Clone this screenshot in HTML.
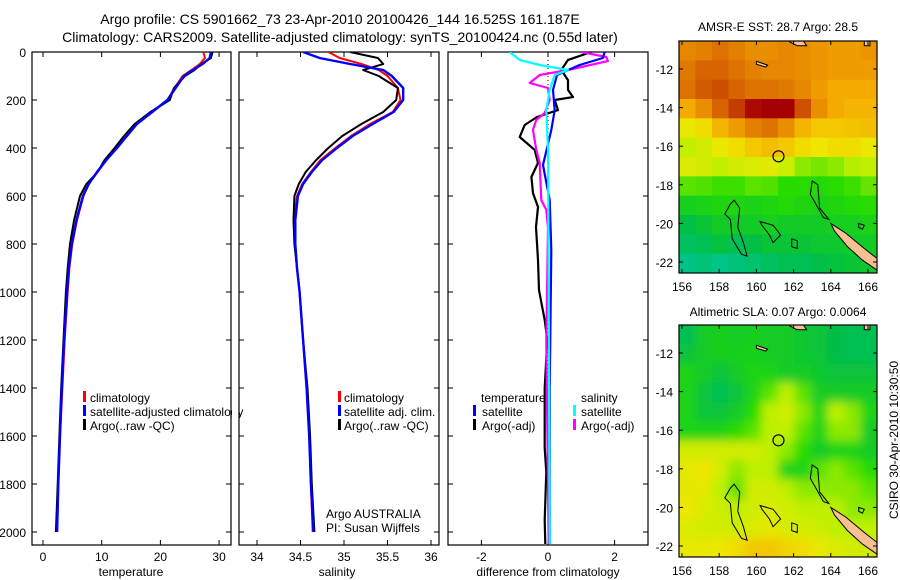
<!DOCTYPE html>
<html><head><meta charset="utf-8">
<style>
html,body{margin:0;padding:0;background:#fff;}
svg{display:block;font-family:"Liberation Sans",sans-serif;}
text{fill:#000;}
</style></head>
<body>
<svg id="fig" width="900" height="580" viewBox="0 0 900 580">
<defs>
  <clipPath id="cp1"><rect x="32" y="52" width="199" height="493"/></clipPath>
  <clipPath id="cp2"><rect x="239" y="52" width="200" height="493"/></clipPath>
  <clipPath id="cp3"><rect x="448" y="52" width="200" height="493"/></clipPath>
  <clipPath id="cpm1"><rect x="679" y="41" width="198" height="232"/></clipPath>
  <clipPath id="cpm2"><rect x="679" y="325" width="198" height="232"/></clipPath>
  <filter id="blur" x="-5%" y="-5%" width="110%" height="110%"><feGaussianBlur stdDeviation="5"/></filter>
</defs>
<text x="340" y="24" font-size="14" text-anchor="middle">Argo profile: CS 5901662_73 23-Apr-2010 20100426_144 16.525S 161.187E</text>
<text x="340" y="42" font-size="14" text-anchor="middle">Climatology: CARS2009. Satellite-adjusted climatology: synTS_20100424.nc (0.55d later)</text>
<text x="778" y="31" font-size="12" text-anchor="middle">AMSR-E SST: 28.7 Argo: 28.5</text>
<text x="778" y="316" font-size="12" text-anchor="middle">Altimetric SLA: 0.07 Argo: 0.0064</text>
<text transform="translate(898,440) rotate(-90)" font-size="12" text-anchor="middle">CSIRO 30-Apr-2010 10:30:50</text>
<g id="layer"></g>
</svg>
<script>
// ---- profile data ----
const depthsTS = [0,25,50,75,100,150,200,250,300,350,400,450,500,550,600,700,800,900,1000,1200,1400,1600,1800,2000];
const tempClim = [27.3,27.6,26.7,25.3,23.8,22.4,21.2,18.6,16,14.3,12.6,10.8,9.3,7.8,6.9,5.8,5.0,4.5,4.2,3.7,3.3,2.9,2.6,2.4];
const tempSat  = [28.6,28.4,27.2,25.5,24,22.6,21.2,18.6,16,14.3,12.6,10.8,9.2,7.8,6.8,5.7,4.9,4.4,4.1,3.6,3.2,2.9,2.6,2.4];
const tempArgo = [28.9,28.6,27.0,25.8,24.2,22.3,21.6,18.3,15.6,13.8,12.2,10.5,9.3,7.4,6.3,5.3,4.6,4.2,3.9,3.5,3.1,2.8,2.5,2.2];
const salClim  = [34.82,34.95,35.2,35.4,35.5,35.62,35.65,35.56,35.3,35.08,34.9,34.73,34.62,34.52,34.46,34.42,34.44,34.46,34.49,34.53,34.57,34.6,34.62,34.64];
const salSat   = [34.53,34.72,35.07,35.45,35.55,35.68,35.68,35.57,35.33,35.1,34.92,34.75,34.63,34.53,34.47,34.44,34.44,34.46,34.49,34.53,34.57,34.6,34.62,34.65];
const salArgo  = [35.07,35.39,35.45,35.22,35.4,35.62,35.6,35.45,35.2,34.98,34.82,34.68,34.56,34.48,34.43,34.42,34.43,34.46,34.49,34.53,34.58,34.61,34.63,34.66];
// ---- difference data ----
const dTArgoDepth = [0,33,75,117,158,188,200,242,271,304,354,408,462,521,588,646,729,867,992,1117,1200,1400,1650,1750,1950,2050];
const dTArgo      = [1.3,0.6,0.4,0.6,0.6,0.75,0.2,0.3,-0.33,-0.7,-0.85,-0.4,-0.3,-0.5,-0.45,-0.3,-0.36,-0.3,-0.27,-0.1,-0.02,-0.1,-0.1,-0.05,-0.1,-0.08];
const dSArgoDepth = [0,21,38,75,96,129,150,200,254,283,325,408,462,617,658,733,1200,2050];
const dSArgo      = [1.0,1.75,1.8,0.6,-0.25,-0.55,0,0.05,-0.1,-0.35,-0.45,-0.35,-0.25,-0.2,-0.05,0,-0.05,0.02];
const dTSatDepth  = [0,25,54,96,158,242,325,471,617,825,1400,2050];
const dTSat       = [1.7,1.65,0.95,0.27,0.15,0.2,0.1,-0.15,0.05,0.1,0.05,0.05];
const dSSatDepth  = [0,33,54,75,96,158,242,408,1000,2050];
const dSSat       = [-1.15,-0.85,-0.25,0.6,0.2,0.05,-0.05,0,0.02,0.05];
// ---- tick labels ----
const depthTicks = [0,200,400,600,800,1000,1200,1400,1600,1800,2000];
const tempTicks = [0,10,20,30];
const salTicks = [34,34.5,35,35.5,36];
const diffTicks = [-2,0,2];
const latTicks = [-12,-14,-16,-18,-20,-22];
const lonTicks = [156,158,160,162,164,166];
// ---- map grids (normalised 0..1) ----
const sstGrid = [
 [0.85,0.86,0.88,0.86,0.84,0.84,0.85,0.84,0.83,0.82,0.82,0.83],
 [0.87,0.9,0.9,0.88,0.86,0.85,0.85,0.84,0.83,0.82,0.82,0.82],
 [0.88,0.91,0.92,0.9,0.88,0.88,0.87,0.85,0.82,0.8,0.8,0.8],
 [0.8,0.84,0.9,0.94,0.99,1.0,1.0,0.92,0.84,0.8,0.78,0.78],
 [0.66,0.7,0.78,0.82,0.86,0.88,0.84,0.78,0.74,0.74,0.75,0.76],
 [0.56,0.6,0.66,0.7,0.74,0.76,0.74,0.7,0.68,0.7,0.7,0.66],
 [0.62,0.6,0.56,0.6,0.62,0.64,0.58,0.5,0.48,0.5,0.54,0.56],
 [0.45,0.44,0.42,0.42,0.45,0.44,0.4,0.4,0.38,0.4,0.42,0.46],
 [0.32,0.34,0.36,0.36,0.34,0.36,0.38,0.36,0.34,0.36,0.38,0.4],
 [0.22,0.26,0.3,0.3,0.3,0.32,0.3,0.3,0.3,0.32,0.32,0.34],
 [0.18,0.2,0.24,0.2,0.22,0.26,0.26,0.26,0.28,0.28,0.3,0.3],
 [0.12,0.14,0.12,0.14,0.16,0.18,0.2,0.2,0.22,0.24,0.26,0.28]];
const slaGrid = [
 [0.2,0.3,0.32,0.3,0.32,0.3,0.3,0.28,0.25,0.22,0.2,0.2],
 [0.25,0.3,0.32,0.32,0.33,0.3,0.3,0.28,0.25,0.22,0.2,0.2],
 [0.35,0.3,0.25,0.3,0.35,0.35,0.3,0.3,0.28,0.25,0.25,0.25],
 [0.35,0.25,0.2,0.25,0.35,0.45,0.55,0.45,0.3,0.3,0.3,0.3],
 [0.35,0.25,0.25,0.3,0.4,0.55,0.6,0.5,0.35,0.55,0.5,0.35],
 [0.35,0.35,0.35,0.4,0.45,0.55,0.55,0.45,0.35,0.5,0.5,0.3],
 [0.6,0.6,0.6,0.6,0.6,0.55,0.5,0.4,0.3,0.35,0.35,0.3],
 [0.65,0.68,0.6,0.5,0.55,0.55,0.35,0.35,0.45,0.5,0.45,0.4],
 [0.65,0.65,0.55,0.45,0.6,0.6,0.55,0.5,0.5,0.5,0.5,0.45],
 [0.68,0.62,0.58,0.55,0.6,0.62,0.6,0.55,0.55,0.55,0.5,0.5],
 [0.62,0.6,0.6,0.6,0.62,0.65,0.62,0.6,0.58,0.55,0.55,0.55],
 [0.66,0.66,0.68,0.7,0.74,0.74,0.72,0.7,0.66,0.62,0.6,0.6]];

const NS="http://www.w3.org/2000/svg";
const layer=document.getElementById('layer');
function mk(tag,attrs,parent){const e=document.createElementNS(NS,tag);for(const k in attrs)e.setAttribute(k,attrs[k]);(parent||layer).appendChild(e);return e;}

const yD = d => 52 + d*0.24;
const xT = v => 43 + v*5.87;
const xS = v => 257 + (v-34)*87;
const xDf = v => 548 + v*33.3;

function axesBox(x0,w,name){
  const r=mk('rect',{x:x0,y:52,width:w,height:493,fill:'none',stroke:'#000','stroke-width':1.2});
  
  
  depthTicks.forEach(d=>{
    mk('line',{x1:x0,x2:x0+5,y1:yD(d),y2:yD(d),stroke:'#000'});
    mk('line',{x1:x0+w,x2:x0+w-5,y1:yD(d),y2:yD(d),stroke:'#000'});
  });
}
function xTicks(vals,fx,label,fmt){
  vals.forEach(v=>{
    const x=fx(v);
    mk('line',{x1:x,x2:x,y1:545,y2:540,stroke:'#000'});
    mk('line',{x1:x,x2:x,y1:52,y2:57,stroke:'#000'});
    const t=mk('text',{x:x,y:561,'font-size':12,'text-anchor':'middle'});t.textContent=fmt?fmt(v):v;
    
    
  });
}
function line(depths,vals,fx,color,w,clip,name){
  const pts=depths.map((d,i)=>fx(vals[i]).toFixed(1)+','+yD(d).toFixed(1)).join(' ');
  const p=mk('polyline',{points:pts,fill:'none',stroke:color,'stroke-width':w,'clip-path':'url(#'+clip+')','stroke-linejoin':'round'});
  
  
}
function txt(x,y,s,size,name,anchor){const t=mk('text',{x:x,y:y,'font-size':size||12,'text-anchor':anchor||'start'});t.textContent=s;
  
  
  return t;}
function legBar(x,y,color){mk('rect',{x:x,y:y-11,width:3,height:11,fill:color});}

// panel 1 temperature
axesBox(32,199,'temperature-axes');
depthTicks.forEach(d=>{const t=txt(26,yD(d)+5,String(d),12,'y-tick-label','end');});
xTicks(tempTicks,xT);
txt(131,576,'temperature',12,'x-axis-title-temperature','middle');
line(depthsTS,tempClim,xT,'#f00',2,'cp1','temp-climatology-line');
line(depthsTS,tempArgo,xT,'#000',2,'cp1','temp-argo-line');
line(depthsTS,tempSat,xT,'#00f',2.4,'cp1','temp-satellite-line');
legBar(83,402,'#f00');txt(90,402,'climatology',12,'legend-climatology');
legBar(83,416,'#00f');txt(90,416,'satellite-adjusted climatology',12,'legend-satellite-adjusted');
legBar(83,430,'#000');txt(90,430,'Argo(..raw -QC)',12,'legend-argo');
mk('rect',{x:232,y:385,width:7,height:50,fill:'#fff'});

// panel 2 salinity
axesBox(239,200,'salinity-axes');
xTicks(salTicks,xS);
txt(337,576,'salinity',12,'x-axis-title-salinity','middle');
line(depthsTS,salClim,xS,'#f00',2,'cp2','sal-climatology-line');
line(depthsTS,salArgo,xS,'#000',2,'cp2','sal-argo-line');
line(depthsTS,salSat,xS,'#00f',2.4,'cp2','sal-satellite-line');
legBar(338,402,'#f00');txt(344,402,'climatology',12,'legend2-climatology');
legBar(338,416,'#00f');txt(344,416,'satellite adj. clim.',12,'legend2-satellite');
legBar(338,430,'#000');txt(344,430,'Argo(..raw -QC)',12,'legend2-argo');
txt(326,518,'Argo AUSTRALIA',12,'credit-argo-australia');
txt(326,532,'PI: Susan Wijffels',12,'credit-pi');

// panel 3 differences
axesBox(448,200,'difference-axes');
xTicks(diffTicks,xDf);
txt(548,576,'difference from climatology',12,'x-axis-title-difference','middle');
mk('line',{x1:xDf(0),x2:xDf(0),y1:52,y2:545,stroke:'#000','stroke-dasharray':'1,3','stroke-width':1});
line(dTArgoDepth,dTArgo,xDf,'#000',2.2,'cp3','diff-temp-argo-line');
line(dSArgoDepth,dSArgo,xDf,'#f0f',2.2,'cp3','diff-sal-argo-line');
line(dTSatDepth,dTSat,xDf,'#00f',2.2,'cp3','diff-temp-satellite-line');
line(dSSatDepth,dSSat,xDf,'#0ff',2.2,'cp3','diff-sal-satellite-line');
txt(481,402,'temperature',12,'legend3-temperature-heading');
legBar(473,416,'#00f');txt(482,416,'satellite',12,'legend3-temp-satellite');
legBar(473,430,'#000');txt(482,430,'Argo(-adj)',12,'legend3-temp-argo');
txt(581,402,'salinity',12,'legend3-salinity-heading');
legBar(573,416,'#0ff');txt(581,416,'satellite',12,'legend3-sal-satellite');
legBar(573,430,'#f0f');txt(581,430,'Argo(-adj)',12,'legend3-sal-argo');

// maps
const stops=[[0,[0,200,210]],[0.22,[0,190,70]],[0.4,[40,220,0]],[0.55,[190,240,0]],[0.68,[240,230,0]],[0.8,[245,170,0]],[0.9,[215,100,0]],[1,[165,0,0]]];
function cmap(v){for(let i=1;i<stops.length;i++){if(v<=stops[i][0]){const a=stops[i-1],b=stops[i],t=(v-a[0])/(b[0]-a[0]);
  return 'rgb('+a[1].map((c,j)=>Math.round(c+(b[1][j]-c)*t)).join(',')+')';}}return 'rgb(165,0,0)';}
const xLon = l => 682 + (l-156)*18.6;
function drawMap(top,grid,clip,name,smooth){
  const g=mk('g',{'clip-path':'url(#'+clip+')'});
  
  
  const yLat = l => top+28 + (-12-l)*19.3;
  const inner = smooth?mk('g',{filter:'url(#blur)'},g):g;
  const rows=grid.length, cols=grid[0].length, cw=198/cols, ch=232/rows;
  if(smooth) mk('rect',{x:670,y:top-10,width:220,height:250,fill:cmap(0.45)},inner);
  grid.forEach((row,r)=>row.forEach((v,c)=>{
    const ex=smooth?(c===0?-10:0):0, ey=smooth?(r===0?-10:0):0;
    const cell=mk('rect',{x:679+c*cw+ex,y:top+r*ch+ey,width:cw+0.6-ex+(smooth&&c===cols-1?10:0),height:ch+0.6-ey+(smooth&&r===rows-1?10:0),fill:cmap(v)},inner);
    
  }));
  const P = arr => arr.map(p=>xLon(p[0]).toFixed(1)+','+yLat(p[1]).toFixed(1)).join(' ');
  mk('polygon',{points:P([[164,-20],[164.8,-20.5],[165.8,-21.3],[166.6,-21.9],[166.6,-22.5],[165.7,-21.9],[164.9,-21.2],[164.2,-20.4]]),fill:'#f8c090',stroke:'#000','stroke-width':1},g);
  mk('polygon',{points:P([[161.7,-10.4],[162.5,-10.5],[162.7,-10.8],[162.2,-10.8],[161.8,-10.6]]),fill:'#f8c090',stroke:'#000'},g);
  mk('polygon',{points:P([[160,-11.6],[160.6,-11.8],[160.5,-11.9],[160.0,-11.75]]),fill:'#f8c090',stroke:'#000'},g);
  mk('polygon',{points:P([[165.8,-10.5],[166.1,-10.5],[166.1,-10.8],[165.8,-10.8]]),fill:'#f8c090',stroke:'#000'},g);
  [[[158.8,-18.8],[159.1,-19.2],[159.0,-20.2],[159.3,-21.0],[159.5,-21.7],[159.2,-21.6],[158.7,-20.8],[158.6,-19.8],[158.3,-19.5],[158.6,-19.0]],
   [[160.2,-19.9],[160.9,-20.1],[161.3,-20.6],[160.9,-21.0],[160.7,-20.6],[160.3,-20.1]],
   [[161.9,-20.8],[162.2,-20.9],[162.2,-21.3],[161.9,-21.2]],
   [[163.0,-17.8],[163.3,-18.0],[163.4,-19.2],[163.9,-19.8],[163.6,-19.7],[163.2,-19.0],[162.9,-18.5]],
   [[165.5,-20.0],[165.8,-20.1],[165.7,-20.3],[165.5,-20.2]]].forEach(poly=>{
    mk('polygon',{points:P(poly),fill:'none',stroke:'#000','stroke-width':1},g);});
  const c=mk('circle',{cx:xLon(161.187),cy:yLat(-16.525),r:5.5,fill:'none',stroke:'#000','stroke-width':1.2});
  
  
  const box=mk('rect',{x:679,y:top,width:198,height:232,fill:'none',stroke:'#000','stroke-width':1.2});
  
  
  latTicks.forEach(l=>{const y=yLat(l);
    mk('line',{x1:679,x2:683,y1:y,y2:y,stroke:'#000'});mk('line',{x1:877,x2:873,y1:y,y2:y,stroke:'#000'});
    txt(673,y+5,String(l),12,'lat-tick-label','end');});
  lonTicks.forEach(l=>{const x=xLon(l);
    mk('line',{x1:x,x2:x,y1:top,y2:top+4,stroke:'#000'});mk('line',{x1:x,x2:x,y1:top+232,y2:top+228,stroke:'#000'});
    txt(x,top+250,String(l),12,'lon-tick-label','middle');});
}
drawMap(41,sstGrid,'cpm1','sst-map',false);
drawMap(325,slaGrid,'cpm2','sla-map',true);
</script>
</body></html>
